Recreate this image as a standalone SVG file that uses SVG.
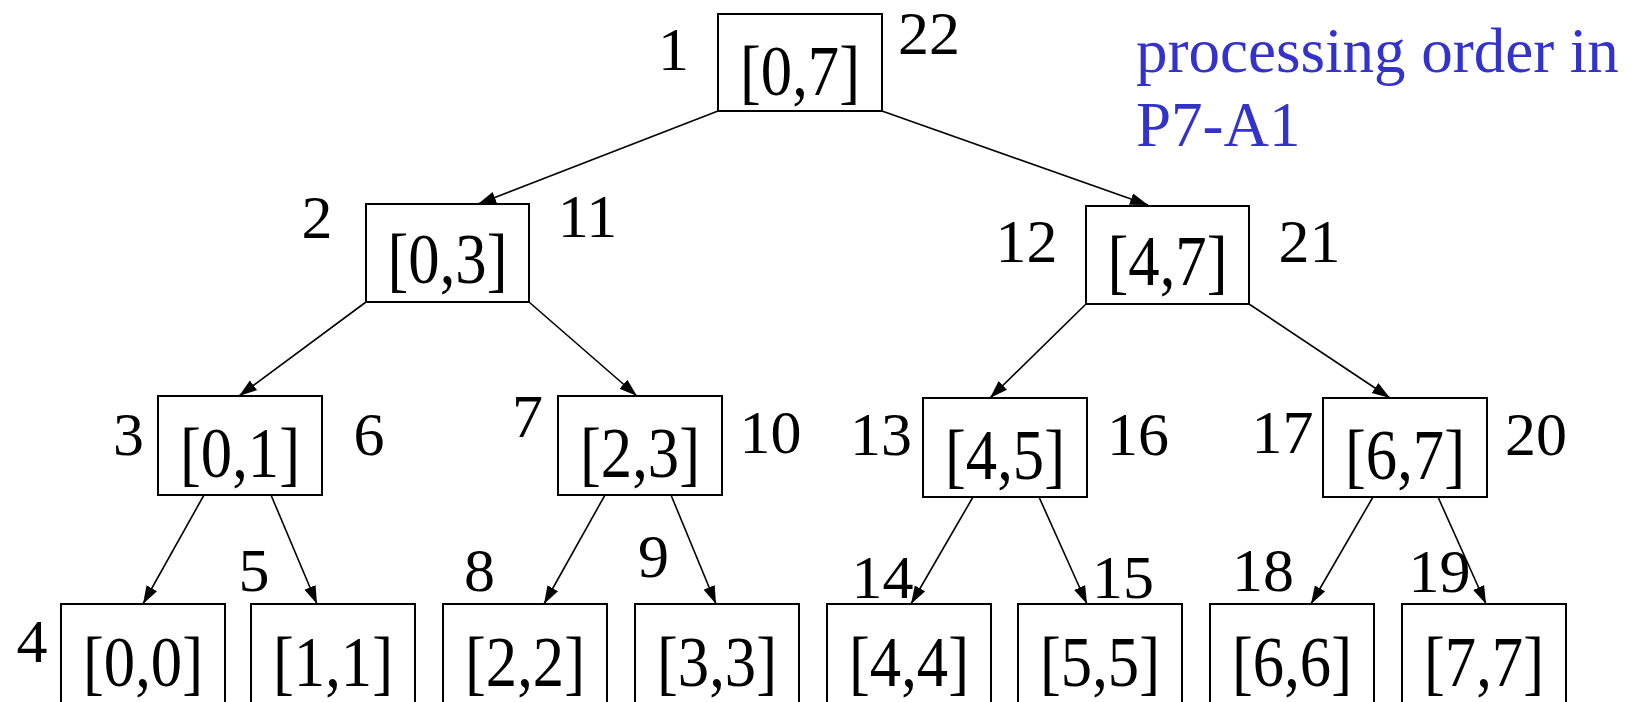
<svg xmlns="http://www.w3.org/2000/svg" width="1637" height="702" viewBox="0 0 1637 702">
<style>
.box{fill:#fff;stroke:#000;stroke-width:2}
.bt{font-family:"Liberation Serif","Times New Roman",serif;font-size:72px;fill:#000;text-anchor:middle}
.lb{font-family:"Liberation Serif","Times New Roman",serif;font-size:62px;fill:#000;text-anchor:middle}
.note{font-family:"Liberation Serif","Times New Roman",serif;font-size:63px;fill:#3333CC}
.edge{stroke:#000;stroke-width:1.6;fill:none;marker-end:url(#ah)}
</style>
<defs>
<marker id="ah" markerUnits="userSpaceOnUse" markerWidth="20" markerHeight="14" refX="18" refY="6" orient="auto">
<path d="M0,0 L18,6 L0,12 z" fill="#000"/>
</marker>
</defs>
<rect width="1637" height="702" fill="#fff"/>
<g id="connectors">
<line class="edge" x1="718" y1="111" x2="478" y2="204"/>
<line class="edge" x1="882" y1="111" x2="1148" y2="205"/>
<line class="edge" x1="366" y1="302" x2="239" y2="396"/>
<line class="edge" x1="529" y1="302" x2="637" y2="396"/>
<line class="edge" x1="1086" y1="304" x2="990" y2="398"/>
<line class="edge" x1="1249" y1="304" x2="1390" y2="398"/>
<line class="edge" x1="204" y1="495" x2="143" y2="604"/>
<line class="edge" x1="271" y1="495" x2="317" y2="604"/>
<line class="edge" x1="605" y1="495" x2="544" y2="604"/>
<line class="edge" x1="671" y1="495" x2="716" y2="604"/>
<line class="edge" x1="973" y1="497" x2="911" y2="604"/>
<line class="edge" x1="1039" y1="497" x2="1087" y2="604"/>
<line class="edge" x1="1373" y1="497" x2="1311" y2="604"/>
<line class="edge" x1="1438" y1="497" x2="1486" y2="604"/>
</g>
<g id="n07"><rect class="box" x="718" y="14" width="164" height="97"/><text class="bt" x="800" y="95" textLength="120" lengthAdjust="spacingAndGlyphs">[0,7]</text></g>
<g id="n03"><rect class="box" x="366" y="204" width="163" height="98"/><text class="bt" x="447.5" y="283" textLength="120" lengthAdjust="spacingAndGlyphs">[0,3]</text></g>
<g id="n47"><rect class="box" x="1086" y="206" width="163" height="98"/><text class="bt" x="1167.5" y="285" textLength="120" lengthAdjust="spacingAndGlyphs">[4,7]</text></g>
<g id="n01"><rect class="box" x="158" y="396" width="164" height="99"/><text class="bt" x="240" y="477" textLength="120" lengthAdjust="spacingAndGlyphs">[0,1]</text></g>
<g id="n23"><rect class="box" x="558" y="396" width="164" height="99"/><text class="bt" x="640" y="477" textLength="120" lengthAdjust="spacingAndGlyphs">[2,3]</text></g>
<g id="n45"><rect class="box" x="923" y="398" width="164" height="99"/><text class="bt" x="1005" y="479" textLength="120" lengthAdjust="spacingAndGlyphs">[4,5]</text></g>
<g id="n67"><rect class="box" x="1323" y="398" width="164" height="99"/><text class="bt" x="1405" y="479" textLength="120" lengthAdjust="spacingAndGlyphs">[6,7]</text></g>
<g id="n00"><rect class="box" x="61" y="604" width="164" height="100"/><text class="bt" x="143" y="686" textLength="120" lengthAdjust="spacingAndGlyphs">[0,0]</text></g>
<g id="n11"><rect class="box" x="251" y="604" width="164" height="100"/><text class="bt" x="333" y="686" textLength="120" lengthAdjust="spacingAndGlyphs">[1,1]</text></g>
<g id="n22"><rect class="box" x="443" y="604" width="164" height="100"/><text class="bt" x="525" y="686" textLength="120" lengthAdjust="spacingAndGlyphs">[2,2]</text></g>
<g id="n33"><rect class="box" x="635" y="604" width="164" height="100"/><text class="bt" x="717" y="686" textLength="120" lengthAdjust="spacingAndGlyphs">[3,3]</text></g>
<g id="n44"><rect class="box" x="827" y="604" width="164" height="100"/><text class="bt" x="909" y="686" textLength="120" lengthAdjust="spacingAndGlyphs">[4,4]</text></g>
<g id="n55"><rect class="box" x="1018" y="604" width="164" height="100"/><text class="bt" x="1100" y="686" textLength="120" lengthAdjust="spacingAndGlyphs">[5,5]</text></g>
<g id="n66"><rect class="box" x="1210" y="604" width="164" height="100"/><text class="bt" x="1292" y="686" textLength="120" lengthAdjust="spacingAndGlyphs">[6,6]</text></g>
<g id="n77"><rect class="box" x="1402" y="604" width="164" height="100"/><text class="bt" x="1484" y="686" textLength="120" lengthAdjust="spacingAndGlyphs">[7,7]</text></g>
<g id="labels">
<text class="lb" x="673.5" y="70">1</text>
<text class="lb" x="929" y="54">22</text>
<text class="lb" x="317" y="238">2</text>
<text class="lb" x="587.5" y="237">11</text>
<text class="lb" x="1026.5" y="262">12</text>
<text class="lb" x="1309.5" y="262">21</text>
<text class="lb" x="128.5" y="455">3</text>
<text class="lb" x="369" y="455">6</text>
<text class="lb" x="527.5" y="437">7</text>
<text class="lb" x="770.5" y="453">10</text>
<text class="lb" x="881" y="455">13</text>
<text class="lb" x="1138" y="455">16</text>
<text class="lb" x="1282.5" y="453">17</text>
<text class="lb" x="1536" y="455">20</text>
<text class="lb" x="32" y="662">4</text>
<text class="lb" x="254" y="591">5</text>
<text class="lb" x="479.5" y="591">8</text>
<text class="lb" x="653.5" y="577">9</text>
<text class="lb" x="882.5" y="598">14</text>
<text class="lb" x="1123" y="598">15</text>
<text class="lb" x="1263" y="591">18</text>
<text class="lb" x="1439.5" y="592">19</text>
</g>
<g id="note">
<text class="note" x="1136" y="72">processing order in</text>
<text class="note" x="1136" y="146">P7-A1</text>
</g>
</svg>
